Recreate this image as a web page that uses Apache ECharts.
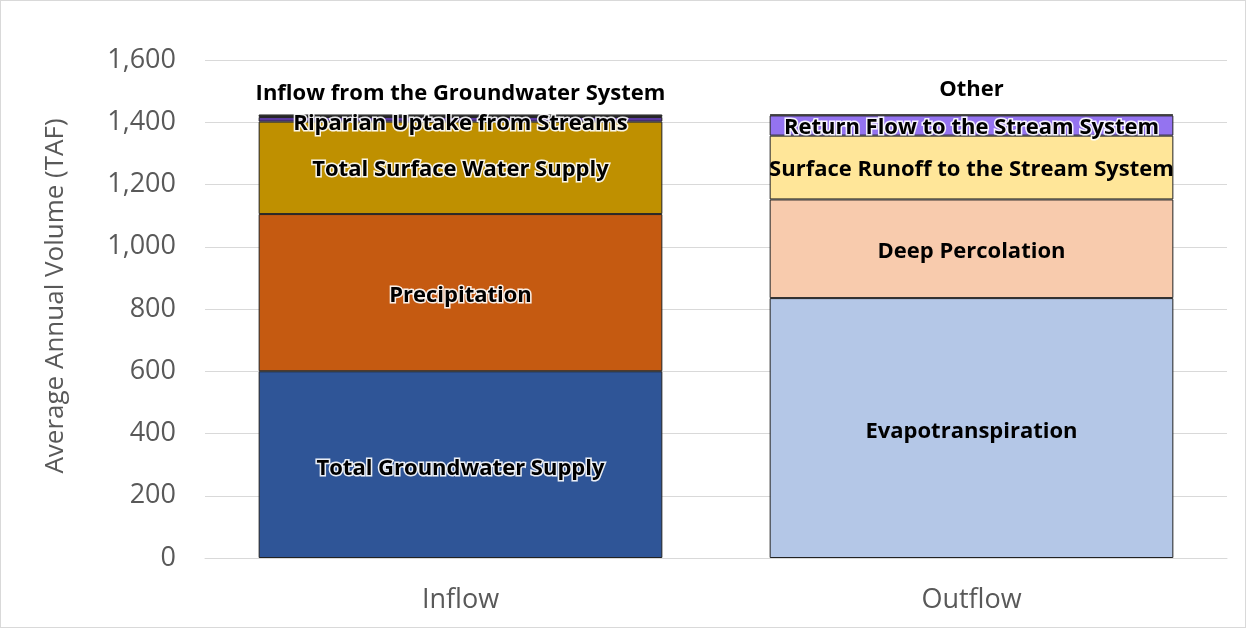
<!DOCTYPE html>
<html>
<head>
<meta charset="utf-8">
<script src="https://cdn.jsdelivr.net/npm/echarts@6/dist/echarts.min.js"></script>
<style>
  html, body { margin: 0; padding: 0; background: #fff; }
  #chart { width: 1246px; height: 628px; box-sizing: border-box; border: 1px solid #d9d9d9; }
</style>
</head>
<body>
<div id="chart"></div>
<script>
// Categories on the x axis
const flowTypes = ["Inflow", "Outflow"];

// Inflow components (TAF), bottom to top
const inflowNames = ["Total Groundwater Supply", "Precipitation", "Total Surface Water Supply", "Riparian Uptake from Streams", "Inflow from the Groundwater System"];
const inflowValues = [600, 505, 297, 15, 8];
const inflowColors = ["#2f5597", "#c55a11", "#bf9000", "#5b3aa0", "#404040"];

// Outflow components (TAF), bottom to top
const outflowNames = ["Evapotranspiration", "Deep Percolation", "Surface Runoff to the Stream System", "Return Flow to the Stream System", "Other"];
const outflowValues = [835, 317, 205, 65, 3];
const outflowColors = ["#b4c7e7", "#f8cbad", "#ffe699", "#9473f0", "#404040"];

// Y axis ticks
const yMin = 0, yMax = 1600, yStep = 200;

const fontFam = "'Open Sans', Lato, sans-serif";

// Label style per segment: halo = white glow round black text
function segLabel(halo, pos, offset) {
    const l = {
        show: true,
        position: pos,
        formatter: "{a}",
        color: "#000",
        fontFamily: fontFam,
        fontWeight: "bold",
        fontSize: 22
    };
    if (halo) {
        l.textBorderColor = "rgba(255,255,255,0.9)";
        l.textBorderWidth = 3;
    }
    if (offset) l.offset = offset;
    return l;
}

const inflowLabels = [
    segLabel(true, "inside", [0, 4]),
    segLabel(true, "inside", [0, 3]),
    segLabel(true, "inside", [0, 2]),
    segLabel(true, "inside", [0, 4]),
    segLabel(false, "top", [0, -5])
];
const outflowLabels = [
    segLabel(false, "inside", [0, 4]),
    segLabel(false, "inside", [0, 3]),
    segLabel(false, "inside", [0, 2]),
    segLabel(true, "inside", [0, 2]),
    segLabel(false, "top", [0, -9])
];

let series = [];
for (let i = 0; i < inflowNames.length; i++) {
    series.push({
        name: inflowNames[i],
        type: "bar",
        stack: "total",
        barWidth: "79%",
        itemStyle: { color: inflowColors[i], borderColor: "#222", borderWidth: 1 },
        label: inflowLabels[i],
        data: [inflowValues[i], "-"]
    });
}
for (let i = 0; i < outflowNames.length; i++) {
    series.push({
        name: outflowNames[i],
        type: "bar",
        stack: "total",
        barWidth: "79%",
        itemStyle: { color: outflowColors[i], borderColor: "#222", borderWidth: 1 },
        label: outflowLabels[i],
        data: ["-", outflowValues[i]]
    });
}

const chart = echarts.init(document.getElementById("chart"));

let option = {
    animation: false,
    grid: { left: 204, right: 18, top: 59, bottom: 69 },
    xAxis: {
        type: "category",
        data: flowTypes,
        axisTick: { show: false },
        axisLine: { lineStyle: { color: "#d9d9d9" } },
        axisLabel: { color: "#595959", fontFamily: fontFam, fontSize: 27, margin: 29 }
    },
    yAxis: {
        type: "value",
        min: yMin,
        max: yMax,
        interval: yStep,
        name: "Average Annual Volume (TAF)",
        nameLocation: "middle",
        nameGap: 136,
        nameTextStyle: { color: "#595959", fontFamily: fontFam, fontSize: 26, padding: [0, 0, 0, 26] },
        axisLine: { show: false },
        axisTick: { show: false },
        splitLine: { lineStyle: { color: "#d9d9d9" } },
        axisLabel: {
            color: "#595959",
            fontFamily: fontFam,
            fontSize: 27,
            margin: 29,
            formatter: v => v.toLocaleString("en-US")
        }
    },
    series: series
};

chart.setOption(option);
</script>
</body>
</html>
